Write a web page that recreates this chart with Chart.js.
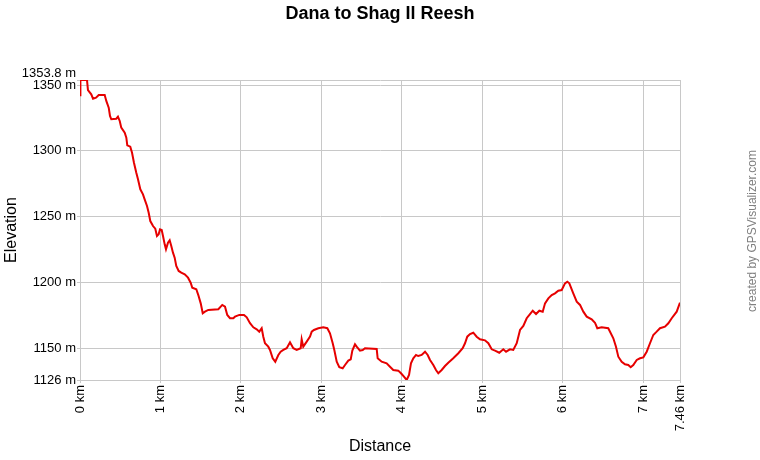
<!DOCTYPE html>
<html>
<head>
<meta charset="utf-8">
<script src="https://cdn.jsdelivr.net/npm/chart.js@4.4.1/dist/chart.umd.min.js"></script>
<style>
  html, body { margin: 0; padding: 0; background: #fff; }
  #wrap { width: 760px; height: 460px; position: relative; }
</style>
</head>
<body>
<div id="wrap"><canvas id="profile" width="760" height="460"></canvas></div>
<script>
// 距離 (km)
var distKm = [
  0, 0.005, 0.087, 0.099, 0.140, 0.162, 0.199, 0.233, 0.307, 0.327,
  0.357, 0.373, 0.389, 0.451, 0.472, 0.494, 0.513, 0.556, 0.576, 0.588,
  0.625, 0.647, 0.671, 0.700, 0.721, 0.750, 0.783, 0.804, 0.833, 0.854,
  0.874, 0.908, 0.936, 0.957, 0.978, 0.995, 1.016, 1.032, 1.053, 1.069,
  1.094, 1.115, 1.135, 1.156, 1.177, 1.197, 1.227, 1.259, 1.302, 1.343,
  1.376, 1.396, 1.446, 1.471, 1.501, 1.526, 1.554, 1.595, 1.720, 1.769,
  1.803, 1.831, 1.865, 1.906, 1.927, 1.981, 2.039, 2.073, 2.114, 2.155,
  2.197, 2.229, 2.259, 2.279, 2.300, 2.341, 2.362, 2.396, 2.428, 2.466,
  2.495, 2.528, 2.570, 2.611, 2.652, 2.694, 2.744, 2.756, 2.776, 2.819,
  2.860, 2.881, 2.909, 2.963, 3.025, 3.075, 3.108, 3.142, 3.162, 3.192,
  3.224, 3.266, 3.295, 3.336, 3.366, 3.386, 3.419, 3.440, 3.481, 3.515,
  3.543, 3.689, 3.701, 3.751, 3.813, 3.854, 3.895, 3.957, 3.991, 4.028,
  4.062, 4.091, 4.115, 4.144, 4.178, 4.206, 4.248, 4.290, 4.323, 4.352,
  4.393, 4.426, 4.455, 4.497, 4.538, 4.579, 4.641, 4.704, 4.758, 4.787,
  4.815, 4.849, 4.890, 4.932, 4.973, 5.035, 5.077, 5.119, 5.160, 5.213,
  5.263, 5.297, 5.346, 5.387, 5.430, 5.471, 5.512, 5.554, 5.595, 5.629,
  5.670, 5.711, 5.753, 5.782, 5.823, 5.865, 5.906, 5.947, 5.989, 6.030,
  6.059, 6.084, 6.133, 6.176, 6.217, 6.258, 6.300, 6.362, 6.403, 6.432,
  6.486, 6.568, 6.590, 6.631, 6.664, 6.693, 6.735, 6.776, 6.817, 6.847,
  6.879, 6.922, 6.963, 7.004, 7.046, 7.087, 7.128, 7.170, 7.211, 7.273,
  7.315, 7.357, 7.419, 7.460
];

// 海拔 (m)
var elevM = [
  1342.2, 1353.8, 1353.8, 1346.2, 1342.9, 1339.6, 1340.4, 1342.4, 1342.4, 1337.9,
  1332.8, 1326.5, 1324.0, 1324.4, 1325.9, 1322.7, 1317.6, 1313.8, 1310.0, 1304.2,
  1303.2, 1298.6, 1291.0, 1283.4, 1278.4, 1270.8, 1267.0, 1263.2, 1258.1, 1253.0,
  1246.7, 1242.9, 1240.9, 1235.3, 1236.6, 1240.4, 1239.9, 1235.3, 1229.0, 1225.2,
  1230.3, 1232.1, 1227.8, 1222.7, 1218.9, 1212.6, 1208.8, 1207.5, 1206.3, 1203.7,
  1199.9, 1196.1, 1194.9, 1190.5, 1184.2, 1176.7, 1177.9, 1179.2, 1179.7, 1183.0,
  1181.7, 1175.4, 1172.9, 1172.9, 1174.1, 1175.4, 1175.4, 1173.6, 1169.1, 1166.0,
  1164.5, 1162.7, 1165.3, 1158.9, 1153.9, 1151.3, 1148.8, 1142.5, 1139.9, 1145.0,
  1147.5, 1148.8, 1150.1, 1154.6, 1150.1, 1148.8, 1150.1, 1156.9, 1151.3, 1155.1,
  1158.9, 1162.7, 1164.0, 1165.3, 1166.0, 1165.3, 1161.5, 1153.9, 1148.8, 1139.9,
  1135.7, 1134.9, 1137.4, 1140.7, 1141.7, 1148.3, 1153.1, 1151.3, 1148.3, 1148.8,
  1150.1, 1149.5, 1142.5, 1139.9, 1138.7, 1136.1, 1133.6, 1133.1, 1131.1, 1128.5,
  1126.0, 1129.8, 1138.7, 1142.5, 1145.0, 1144.2, 1145.0, 1147.5, 1145.0, 1141.2,
  1137.4, 1133.6, 1131.1, 1133.6, 1136.6, 1139.1, 1142.5, 1146.3, 1150.1, 1153.9,
  1158.9, 1160.9, 1161.9, 1158.9, 1156.9, 1156.1, 1153.9, 1149.3, 1148.3, 1146.7,
  1149.3, 1147.5, 1149.3, 1148.8, 1153.9, 1164.0, 1167.0, 1172.9, 1176.1, 1178.6,
  1176.1, 1178.6, 1177.9, 1184.2, 1188.0, 1190.5, 1191.8, 1193.8, 1194.3, 1199.4,
  1200.6, 1199.4, 1191.8, 1185.5, 1183.0, 1177.9, 1174.1, 1172.1, 1169.5, 1165.3,
  1166.0, 1165.3, 1162.7, 1157.7, 1151.3, 1143.7, 1139.9, 1137.9, 1137.4, 1135.7,
  1137.4, 1141.2, 1142.5, 1143.2, 1147.5, 1153.9, 1160.2, 1162.7, 1165.3, 1166.5,
  1169.1, 1172.9, 1177.9, 1184.7
];

// 刻度
var xTicks = [0, 1, 2, 3, 4, 5, 6, 7, 7.46];
var yTicks = [1126, 1150, 1200, 1250, 1300, 1350, 1353.8];

var points = distKm.map(function (d, i) {
  return { x: d, y: elevM[i] };
});

var gridColor = '#c8c8c8';
var fontFamily = '"Liberation Sans", Arial, sans-serif';

// 右側文字
var creditPlugin = {
  id: 'credit',
  afterDraw: function (chart) {
    var c = chart.ctx;
    c.save();
    c.translate(753, 231);
    c.rotate(-Math.PI / 2);
    c.font = '12px ' + fontFamily;
    c.fillStyle = '#808080';
    c.textAlign = 'center';
    c.textBaseline = 'middle';
    c.fillText('created by GPSVisualizer.com', 0, 0);
    c.restore();
  }
};

var ctx = document.getElementById('profile');
var chart = new Chart(ctx, {
  type: 'line',
  data: {
    datasets: [{
      label: 'Elevation',
      data: points,
      borderColor: '#e60000',
      borderWidth: 2,
      pointRadius: 0,
      tension: 0,
      fill: false
    }]
  },
  options: {
    responsive: false,
    animation: false,
    layout: { padding: 0 },
    plugins: {
      legend: { display: false },
      tooltip: { enabled: false },
      title: {
        display: true,
        text: 'Dana to Shag Il Reesh',
        color: '#000',
        font: { family: fontFamily, size: 18, weight: 'bold' },
        padding: { top: 3.2, bottom: 55.2 }
      }
    },
    scales: {
      x: {
        type: 'linear',
        min: 0,
        max: 7.46,
        afterBuildTicks: function (axis) {
          axis.ticks = xTicks.map(function (v) { return { value: v }; });
        },
        afterFit: function (axis) { axis.height = 80; },
        grid: { color: gridColor, tickLength: 3 },
        border: { color: gridColor },
        ticks: {
          autoSkip: false,
          minRotation: 90,
          maxRotation: 90,
          padding: 2,
          color: '#000',
          font: { family: fontFamily, size: 13 },
          callback: function (v) { return v + ' km'; }
        },
        title: {
          display: true,
          text: 'Distance',
          color: '#000',
          font: { family: fontFamily, size: 16 },
          padding: { top: 0, bottom: 4 }
        }
      },
      y: {
        min: 1126,
        max: 1353.8,
        afterBuildTicks: function (axis) {
          axis.ticks = yTicks.map(function (v) { return { value: v }; });
        },
        afterFit: function (axis) { axis.width = 80; },
        grid: { color: gridColor, tickLength: 3 },
        border: { color: gridColor },
        ticks: {
          autoSkip: false,
          padding: 1,
          color: '#000',
          font: { family: fontFamily, size: 13, lineHeight: 1 },
          callback: function (v) {
            if (v === 1353.8) return [v + ' m', ''];
            return v + ' m';
          }
        },
        title: {
          display: true,
          text: 'Elevation',
          color: '#000',
          font: { family: fontFamily, size: 16 },
          padding: { top: 2, bottom: 0 }
        }
      },
      // 右側留白
      yRight: {
        position: 'right',
        min: 0,
        max: 1,
        afterFit: function (axis) { axis.width = 80; },
        grid: { display: false },
        border: { display: false },
        ticks: { display: false }
      }
    }
  },
  plugins: [creditPlugin]
});
</script>
</body>
</html>
